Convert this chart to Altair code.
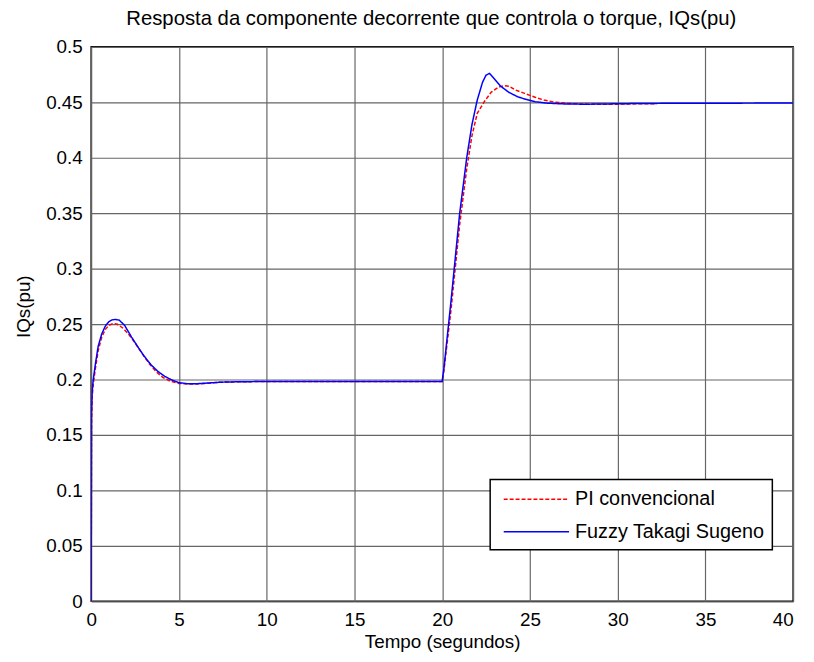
import altair as alt
import pandas as pd

series = ["PI convencional", "Fuzzy Takagi Sugeno"]

# PI convencional (red dashed)
t_pi = [0, 0.02, 0.06, 0.12, 0.25, 0.4, 0.6, 0.8, 1.0, 1.25, 1.5, 1.8, 2.1, 2.5,
        2.9, 3.3, 3.7, 4.1, 4.5, 5.0, 5.5, 6.0, 6.6, 7.4, 8.5, 10, 20, 20.1, 20.5,
        21.0, 21.4, 21.7, 22.0, 22.4, 22.8, 23.2, 23.5, 23.8, 24.2, 24.7, 25.3,
        25.8, 26.4, 27.2, 28, 29, 30, 31, 32.2]
iq_pi = [0, 0.16, 0.185, 0.196, 0.211, 0.226, 0.238, 0.245, 0.2488, 0.2506, 0.2498,
         0.2465, 0.2415, 0.233, 0.2235, 0.2145, 0.207, 0.2018, 0.1985, 0.1965, 0.196,
         0.196, 0.1965, 0.1976, 0.198, 0.1982, 0.1982, 0.208, 0.262, 0.34, 0.39, 0.42,
         0.44, 0.4505, 0.4592, 0.4635, 0.465, 0.4645, 0.461, 0.458, 0.4545, 0.452,
         0.4502, 0.449, 0.4484, 0.4482, 0.4483, 0.4486, 0.4488]

# Fuzzy Takagi Sugeno (blue solid)
t_fz = [0, 0.02, 0.06, 0.12, 0.25, 0.4, 0.6, 0.8, 1.0, 1.2, 1.4, 1.6, 1.9, 2.3, 2.7,
        3.0, 3.4, 3.8, 4.2, 4.6, 5.0, 5.5, 6.0, 6.5, 7.4, 8.5, 10, 20, 20.1, 20.5,
        21.0, 21.4, 21.7, 22.0, 22.3, 22.5, 22.7, 22.9, 23.3, 23.8, 24.3, 24.7, 25.3,
        26, 27, 28, 29, 30, 32, 35, 40]
iq_fz = [0, 0.17, 0.19, 0.2, 0.215, 0.23, 0.241, 0.248, 0.252, 0.2538, 0.2542, 0.2535,
         0.249, 0.2383, 0.2285, 0.2215, 0.2135, 0.2073, 0.2028, 0.1995, 0.1972, 0.1962,
         0.1962, 0.1967, 0.1976, 0.198, 0.1982, 0.1982, 0.21, 0.27, 0.35, 0.40, 0.43,
         0.452, 0.468, 0.4745, 0.476, 0.4725, 0.465, 0.459, 0.455, 0.453, 0.4505,
         0.4492, 0.4485, 0.4483, 0.4484, 0.4487, 0.449, 0.4492, 0.4493]

x_ticks = [0, 5, 10, 15, 20, 25, 30, 35, 40]
y_ticks = [0, 0.05, 0.1, 0.15, 0.2, 0.25, 0.3, 0.35, 0.4, 0.45, 0.5]

FONT = "Liberation Sans"

df = pd.concat([
    pd.DataFrame({"t": t_pi, "iq": iq_pi, "serie": series[0]}),
    pd.DataFrame({"t": t_fz, "iq": iq_fz, "serie": series[1]}),
], ignore_index=True)

legend = alt.Legend(
    title=None, orient="none", legendX=403, legendY=437,
    symbolType="M-3,0H3", symbolSize=484, symbolStrokeWidth=1.5,
    labelFontSize=20, labelFont=FONT, labelColor="black", labelLimit=400,
    padding=8, rowPadding=10.7, labelOffset=27, symbolOffset=26.7,
    fillColor="white", strokeColor="black",
)

color = alt.Color("serie:N", scale=alt.Scale(domain=series, range=["#ff0000", "#0000ff"]),
                  legend=legend)
dash = alt.StrokeDash("serie:N", scale=alt.Scale(domain=series, range=[[4, 2], [1, 0]]),
                      legend=legend)

x = alt.X("t:Q", scale=alt.Scale(domain=[0, 40], nice=False),
          axis=alt.Axis(values=x_ticks, title="Tempo (segundos)", grid=True, ticks=False,
                        domain=False, labelPadding=9, labelFlush=False, labelOverlap=False,
                        labelAlign={"condition": {"test": "datum.value == 40", "value": "right"}, "value": "center"},
                        titleY=41, titleBaseline="middle"))
y = alt.Y("iq:Q", scale=alt.Scale(domain=[0, 0.5], nice=False, zero=False),
          axis=alt.Axis(values=y_ticks, format="~g", title="IQs(pu)", grid=True, ticks=False,
                        domain=False, labelPadding=9, labelOverlap=False,
                        titleX=-68, titleY=262, titleBaseline="middle", titleAlign="center"))

base = alt.Chart(df).mark_line(strokeWidth=1.5, clip=True).encode(
    x=x, y=y, color=color, strokeDash=dash)
pi = base.transform_filter(alt.datum.serie == series[0])
fz = base.transform_filter(alt.datum.serie == series[1])

chart = alt.layer(pi, fz).properties(
    width=709, height=560,
    title=alt.Title("Resposta da componente decorrente que controla o torque, IQs(pu)",
                    fontSize=20.5, font=FONT, fontWeight="normal", color="black",
                    anchor="middle", dx=-11, offset=9),
    autosize=alt.AutoSizeParams(type="none"),
    padding={"left": 84, "top": 36, "right": 13, "bottom": 50},
    background="white",
).configure_view(
    stroke="black", strokeWidth=1.5
).configure_axis(
    gridColor="#666666", gridWidth=1.2, gridOpacity=1,
    labelFont=FONT, labelFontSize=19, labelColor="black",
    titleFont=FONT, titleFontSize=19, titleFontWeight="normal", titleColor="black",
).configure_legend(
    strokeWidth=1.5
)

chart.save("out.html", embed_options={"renderer": "svg", "actions": False})
